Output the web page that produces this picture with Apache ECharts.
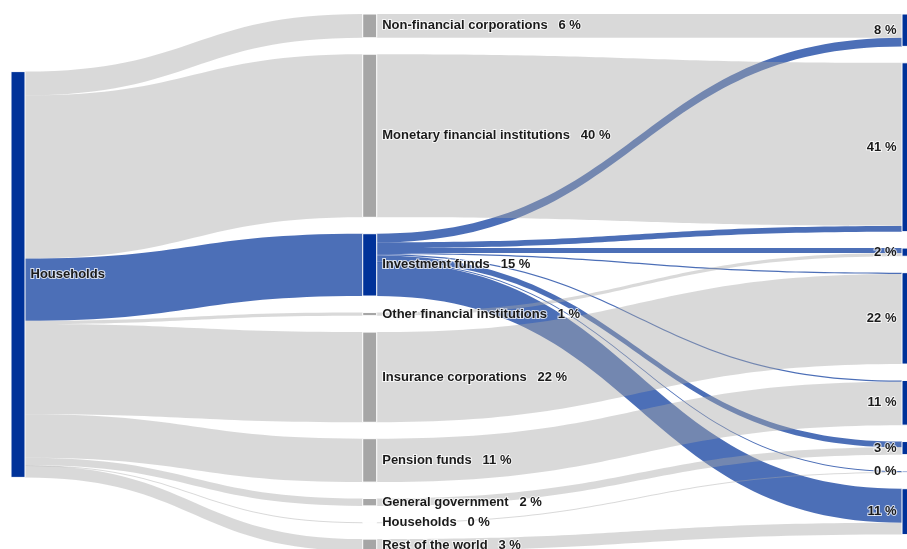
<!DOCTYPE html>
<html>
<head>
<meta charset="utf-8">
<script src="https://cdn.jsdelivr.net/npm/echarts@6/dist/echarts.min.js"></script>
<style>
html,body{margin:0;padding:0;background:#ffffff;}
#chart{width:907px;height:549px;}
</style>
</head>
<body>
<div id="chart"></div>
<script>
// ---------------- data ----------------
const holderName = 'Households';
// counterparty sectors of households' direct holdings (middle column)
const sectors = ['Non-financial corporations', 'Monetary financial institutions', 'Investment funds',
  'Other financial institutions', 'Insurance corporations', 'Pension funds', 'General government',
  'Households', 'Rest of the world'];
// households' direct holdings by counterparty sector (% of total)
const directShares = [5.8, 39.8, 15.2, 0.8, 22.0, 10.6, 1.8, 0.1, 2.9];
// sectors after looking through investment funds (right column)
const lookThroughSectors = ['Non-financial corporations', 'Monetary financial institutions',
  'Other financial institutions', 'Insurance corporations', 'Pension funds', 'General government',
  'Households', 'Rest of the world'];
// investment-fund holdings redistributed to the ultimate sectors (% of total)
const fundLookThrough = [2.1, 1.4, 1.2, 0.3, 0.3, 1.4, 0.2, 8.3];
const fundSector = 'Investment funds';

// ---------------- styles ----------------
const BLUE = '#003299';
const GREY = '#a6a6a6';
const H_PX = 549, TOP = 14, BOTTOM = -2, GAP = 16.4;
const MID_DEPTH = 15, RIGHT_DEPTH = 38;

const total = directShares.reduce((a, b) => a + b, 0);
const seriesH = H_PX - TOP - BOTTOM;
const ky = (seriesH - (sectors.length - 1) * GAP) / total;
const leftNodeH = total * ky;
const leftLocalY = ((H_PX / 2 - TOP) - leftNodeH / 2) / seriesH;

const labelText = {};
const nodes = [];
nodes.push({
  name: 'L|' + holderName, value: total, depth: 0, localY: leftLocalY,
  itemStyle: { color: BLUE }, label: { position: 'right' }
});
labelText['L|' + holderName] = holderName;

sectors.forEach((s, i) => {
  const id = 'M|' + s;
  nodes.push({
    name: id, value: directShares[i], depth: MID_DEPTH,
    itemStyle: { color: s === fundSector ? BLUE : GREY }, label: { position: 'right' }
  });
  labelText[id] = s + '   ' + Math.round(directShares[i]) + ' %';
});

lookThroughSectors.forEach((s, k) => {
  const id = 'R|' + s;
  const direct = directShares[sectors.indexOf(s)];
  const v = direct + fundLookThrough[k];
  nodes.push({
    name: id, value: v, depth: RIGHT_DEPTH,
    itemStyle: { color: BLUE }, label: { position: 'left' }
  });
  labelText[id] = Math.round(v) + ' %';
});

const blueStyle = { color: BLUE, opacity: 0.7 };
const greyStyle = { color: GREY, opacity: 0.43 };
const blueLinks = [], greyLinks = [];
sectors.forEach((s, i) => {
  const l = { source: 'L|' + holderName, target: 'M|' + s, value: directShares[i] };
  if (s === fundSector) { l.lineStyle = blueStyle; blueLinks.push(l); }
  else { l.lineStyle = greyStyle; greyLinks.push(l); }
});
lookThroughSectors.forEach((s, k) => {
  blueLinks.push({ source: 'M|' + fundSector, target: 'R|' + s, value: fundLookThrough[k], lineStyle: blueStyle });
  greyLinks.push({ source: 'M|' + s, target: 'R|' + s, value: directShares[sectors.indexOf(s)], lineStyle: greyStyle });
});
const links = blueLinks.concat(greyLinks);

const chart = echarts.init(document.getElementById('chart'), null, { renderer: 'canvas' });
chart.setOption({
  animation: false,
  backgroundColor: '#ffffff',
  series: [{
    type: 'sankey',
    left: 11, right: -9, top: TOP, bottom: BOTTOM,
    nodeWidth: 14,
    nodeGap: GAP,
    nodeAlign: 'left',
    layoutIterations: 0,
    draggable: false,
    emphasis: { disabled: true },
    itemStyle: { borderColor: '#ffffff', borderWidth: 1 },
    lineStyle: { curveness: 0.5 },
    label: {
      color: '#1a1a1a',
      fontSize: 13,
      fontWeight: 'bold',
      fontFamily: 'Liberation Sans, Arial, sans-serif',
      textBorderColor: 'rgba(255,255,255,0.75)',
      textBorderWidth: 2,
      distance: 5,
      formatter: p => labelText[p.name]
    },
    data: nodes,
    links: links
  }]
});
</script>
</body>
</html>
